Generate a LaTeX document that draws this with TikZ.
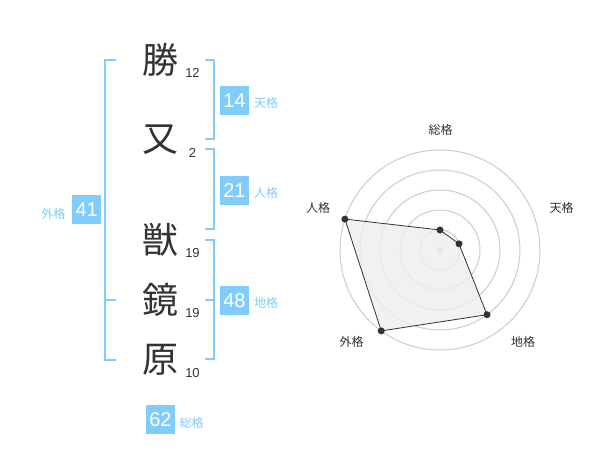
\documentclass[tikz,border=0pt]{standalone}
\usepackage{fontspec}
\setmainfont{Liberation Sans}
\newfontfamily\cjk{Noto Sans CJK JP}
\definecolor{sky}{RGB}{128,204,250}
\definecolor{ink}{RGB}{51,51,51}
\definecolor{ring}{RGB}{204,204,204}
\definecolor{area}{RGB}{238,238,238}
\begin{document}
\begin{tikzpicture}[x=1pt,y=1pt,
 kanji/.style={font=\cjk\fontsize{36}{36}\selectfont, text=ink, inner sep=0pt},
 strokes/.style={font=\fontsize{13}{13}\selectfont, text=ink, inner sep=0pt},
 numbox/.style={fill=sky, text=white, minimum width=29pt, minimum height=29pt, inner sep=0pt, font=\fontsize{20}{20}\selectfont},
 kaku/.style={font=\cjk\fontsize{12}{12}\selectfont, text=sky, inner sep=0pt},
 brk/.style={draw=sky, line width=2pt},
 axlabel/.style={font=\cjk\fontsize{12}{12}\selectfont, text=ink, inner sep=0pt},
 dot/.style={circle, fill=ink, minimum size=7pt, inner sep=0pt},
 ringline/.style={draw=ring, line width=1pt},
]
\useasboundingbox (0,0) rectangle (600,470);
\fill[white] (0,0) rectangle (600,470);

% brackets
\draw[brk] (116,410) -- (105,410) -- (105,110) -- (116,110);
\draw[brk] (105,170) -- (116,170);
\draw[brk] (205,410) -- (214,410) -- (214,330.7) -- (205,330.7);
\draw[brk] (205,320.7) -- (214,320.7) -- (214,240.7) -- (205,240.7);
\draw[brk] (205,230) -- (214,230) -- (214,110.7) -- (205,110.7);
\draw[brk] (205,170) -- (214,170);

% characters
\node[kanji] (c1) at (160,410) {勝};
\node[kanji] (c2) at (160,330) {又};
\node[kanji] (c3) at (160,230) {獣};
\node[kanji] (c4) at (160,170) {鏡};
\node[kanji] (c5) at (160,110) {原};
\node[strokes] (s1) at (192.5,397.3) {12};
\node[strokes] (s2) at (192.5,317) {2};
\node[strokes] (s3) at (192.5,217.3) {19};
\node[strokes] (s4) at (192.5,157.3) {19};
\node[strokes] (s5) at (192.5,97.3) {10};

% boxes
\node[numbox] (ten) at (234.5,369.5) {14};
\node[kaku, anchor=west] (tenl) at (254,367) {天格};
\node[numbox] (jin) at (234.5,279.5) {21};
\node[kaku, anchor=west] (jinl) at (254,277) {人格};
\node[numbox] (gai) at (86.7,260) {41};
\node[kaku] (gail) at (53.3,256) {外格};
\node[numbox] (chi) at (234.5,169.5) {48};
\node[kaku, anchor=west] (chil) at (254,167) {地格};
\node[numbox] (sou) at (160.5,50.5) {62};
\node[kaku, anchor=west] (soul) at (179.3,47.3) {総格};

% radar
\coordinate (O) at (440,220);
\foreach \r in {20,40,60,80,100} \draw[ringline] (O) circle (\r pt);
\fill[ring] (O) circle (3.5pt);
\coordinate (rs) at ([shift={(90:20)}]O);
\coordinate (rt) at ([shift={(18:20)}]O);
\coordinate (rc) at ([shift={(-54:80)}]O);
\coordinate (rg) at ([shift={(-126:100)}]O);
\coordinate (rj) at ([shift={(162:100)}]O);
\filldraw[fill=area, fill opacity=0.8, draw=ink, line width=0.8pt] (rs) -- (rt) -- (rc) -- (rg) -- (rj) -- cycle;
\foreach \p in {rs,rt,rc,rg,rj} \node[dot] (\p-dot) at (\p) {};
\node[axlabel] (ls) at (440.7,340) {総格};
\node[axlabel] (lt) at (561.7,262) {天格};
\node[axlabel] (lc) at (523,128.3) {地格};
\node[axlabel] (lg) at (351.7,128.3) {外格};
\node[axlabel] (lj) at (318,262) {人格};
\end{tikzpicture}
\end{document}
